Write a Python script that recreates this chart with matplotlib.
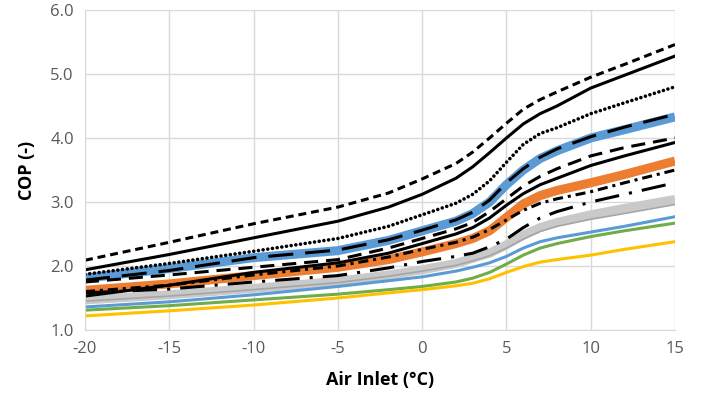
import matplotlib
matplotlib.use("Agg")
import matplotlib.pyplot as plt

# air inlet temperature (degC)
x = [-20, -15, -10, -5, -2, 0, 2, 3, 4, 5, 6, 7, 8, 10, 12, 15]

# COP curves
blue_thick = [1.81, 1.96, 2.13, 2.24, 2.40, 2.55, 2.70, 2.82, 3.00, 3.27, 3.50, 3.68, 3.80, 4.00, 4.13, 4.33]
orange_thick = [1.62, 1.72, 1.85, 1.98, 2.10, 2.22, 2.35, 2.43, 2.55, 2.76, 2.97, 3.10, 3.18, 3.30, 3.43, 3.64]
gray_thick = [1.47, 1.55, 1.65, 1.76, 1.86, 1.94, 2.04, 2.12, 2.20, 2.33, 2.48, 2.60, 2.68, 2.80, 2.90, 3.04]
gray_thin = [1.45, 1.53, 1.63, 1.74, 1.84, 1.92, 2.01, 2.08, 2.16, 2.28, 2.42, 2.54, 2.62, 2.73, 2.82, 2.96]
blue_thin = [1.36, 1.44, 1.55, 1.68, 1.77, 1.83, 1.92, 1.98, 2.05, 2.15, 2.28, 2.38, 2.44, 2.53, 2.62, 2.77]
green = [1.31, 1.38, 1.47, 1.56, 1.63, 1.68, 1.75, 1.81, 1.90, 2.03, 2.17, 2.28, 2.35, 2.46, 2.55, 2.67]
yellow = [1.22, 1.30, 1.39, 1.50, 1.58, 1.63, 1.69, 1.73, 1.80, 1.90, 1.99, 2.06, 2.10, 2.17, 2.26, 2.38]

blk_short_dash = [2.09, 2.37, 2.66, 2.92, 3.14, 3.36, 3.60, 3.78, 4.00, 4.23, 4.45, 4.60, 4.72, 4.95, 5.15, 5.46]
blk_solid_top = [1.94, 2.18, 2.44, 2.70, 2.92, 3.12, 3.37, 3.55, 3.77, 4.00, 4.22, 4.38, 4.50, 4.78, 4.98, 5.28]
blk_dotted = [1.87, 2.04, 2.23, 2.43, 2.62, 2.80, 2.98, 3.12, 3.33, 3.62, 3.90, 4.07, 4.16, 4.38, 4.55, 4.80]
blk_long_dash = [1.78, 1.93, 2.13, 2.25, 2.41, 2.56, 2.72, 2.84, 3.03, 3.30, 3.52, 3.70, 3.83, 4.02, 4.17, 4.37]
blk_med_dash = [1.75, 1.86, 1.98, 2.10, 2.28, 2.43, 2.58, 2.68, 2.85, 3.05, 3.25, 3.40, 3.52, 3.72, 3.85, 4.00]
blk_solid_mid = [1.53, 1.70, 1.90, 2.05, 2.20, 2.35, 2.50, 2.60, 2.75, 2.95, 3.13, 3.27, 3.37, 3.57, 3.72, 3.93]
blk_dash_dot = [1.60, 1.70, 1.86, 2.00, 2.14, 2.26, 2.37, 2.45, 2.57, 2.72, 2.87, 2.98, 3.05, 3.16, 3.30, 3.50]
blk_long_dash_dot = [1.58, 1.64, 1.75, 1.85, 1.97, 2.07, 2.15, 2.20, 2.30, 2.42, 2.60, 2.75, 2.85, 3.00, 3.12, 3.30]

x_ticks = [-20, -15, -10, -5, 0, 5, 10, 15]
y_ticks = [1.0, 2.0, 3.0, 4.0, 5.0, 6.0]

fig = plt.figure(figsize=(7.01, 4.05), dpi=100)
ax = fig.add_axes([85 / 701, 75 / 405, 590 / 701, 320 / 405])

thick = dict(lw=6.5, solid_capstyle="butt", solid_joinstyle="round")
thin = dict(lw=2.2, solid_joinstyle="round")
blk = dict(color="black", lw=2.2, solid_joinstyle="round", dash_joinstyle="round")

# coloured series
ax.plot(x, gray_thick, color="#c9c9c9", **thick)
ax.plot(x, gray_thin, color="#a5a5a5", lw=1.2)
ax.plot(x, blue_thin, color="#5b9bd5", **thin)
ax.plot(x, green, color="#70ad47", **thin)
ax.plot(x, yellow, color="#ffc000", **thin)
ax.plot(x, blue_thick, color="#5b9bd5", **thick)
ax.plot(x, orange_thick, color="#ed7d31", **thick)

# black series
ax.plot(x, blk_short_dash, linestyle=(0, (2.6, 1.6)), **blk)
ax.plot(x, blk_solid_top, **blk)
ax.plot(x, blk_dotted, color="black", lw=2.6, linestyle=(0, (0.01, 1.3)),
        dash_capstyle="round")
ax.plot(x, blk_long_dash, linestyle=(0, (8.2, 3.9)), **blk)
ax.plot(x, blk_med_dash, linestyle=(0, (4.6, 2.6)), **blk)
ax.plot(x, blk_solid_mid, **blk)
ax.plot(x, blk_dash_dot, linestyle=(0, (3.3, 1.6, 1.0, 1.6)), **blk)
ax.plot(x, blk_long_dash_dot, linestyle=(0, (8, 3.3, 1.0, 3.3)), **blk)

ax.set_xlim(-20, 15)
ax.set_ylim(1.0, 6.0)
ax.set_xticks(x_ticks)
ax.set_yticks(y_ticks)
ax.set_xticklabels([str(t) for t in x_ticks])
ax.set_yticklabels([f"{t:.1f}" for t in y_ticks])
ax.tick_params(length=0, labelsize=12, labelcolor="#595959", pad=8)
for lab in ax.get_xticklabels() + ax.get_yticklabels():
    lab.set_fontfamily("Open Sans")

ax.grid(True, color="#d9d9d9", lw=1)
ax.set_axisbelow(True)
for side in ["top", "right"]:
    ax.spines[side].set_visible(False)
for side in ["left", "bottom"]:
    ax.spines[side].set_color("#d9d9d9")

ax.set_xlabel("Air Inlet (°C)", fontsize=13, fontweight="bold", family="Open Sans", labelpad=10)
ax.set_ylabel("COP (-)", fontsize=13, fontweight="bold", family="Open Sans", labelpad=10)

fig.savefig("out.png", dpi=100)
